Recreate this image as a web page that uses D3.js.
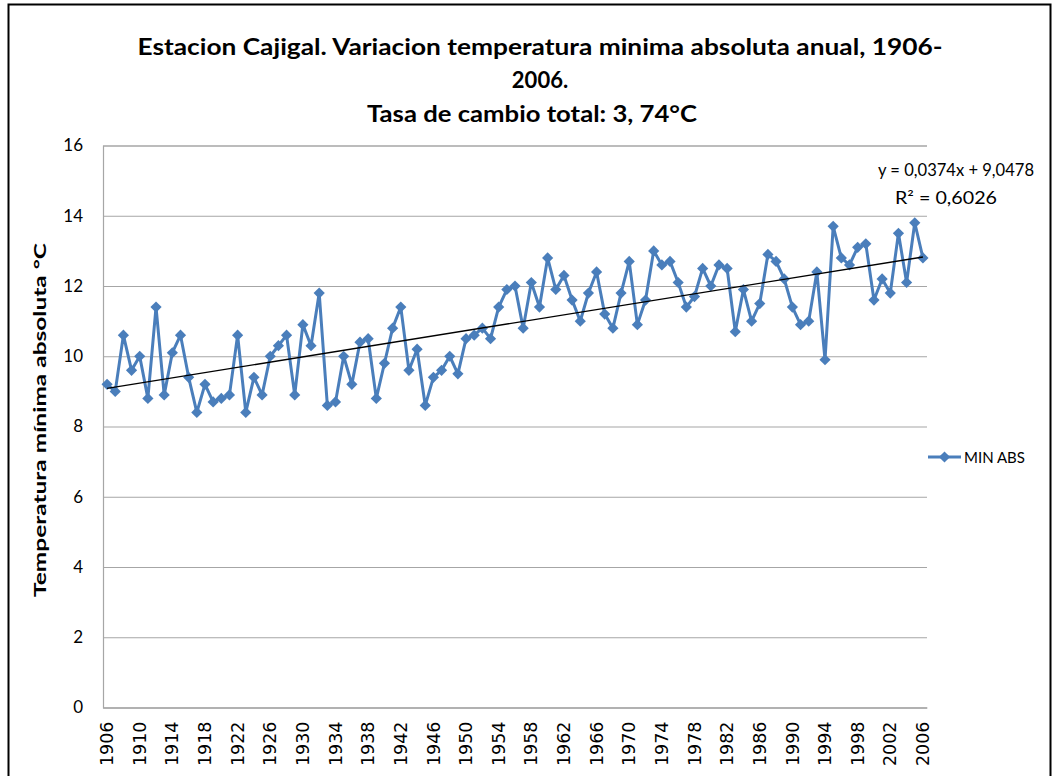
<!DOCTYPE html>
<html>
<head>
<meta charset="utf-8">
<script src="https://cdn.jsdelivr.net/npm/d3@7"></script>
<style>
  html, body { margin: 0; padding: 0; background: #fff; }
  svg { display: block; }
</style>
</head>
<body>
<svg id="chart" width="1058" height="776"></svg>
<script>
// Annual absolute minimum temperature, Cajigal station, 1906–2006
const years = d3.range(1906, 2007);
const minAbs = [
  9.2, 9.0, 10.6, 9.6, 10.0, 8.8, 11.4, 8.9, 10.1, 10.6,
  9.4, 8.4, 9.2, 8.7, 8.8, 8.9, 10.6, 8.4, 9.4, 8.9,
  10.0, 10.3, 10.6, 8.9, 10.9, 10.3, 11.8, 8.6, 8.7, 10.0,
  9.2, 10.4, 10.5, 8.8, 9.8, 10.8, 11.4, 9.6, 10.2, 8.6,
  9.4, 9.6, 10.0, 9.5, 10.5, 10.6, 10.8, 10.5, 11.4, 11.9,
  12.0, 10.8, 12.1, 11.4, 12.8, 11.9, 12.3, 11.6, 11.0, 11.8,
  12.4, 11.2, 10.8, 11.8, 12.7, 10.9, 11.6, 13.0, 12.6, 12.7,
  12.1, 11.4, 11.7, 12.5, 12.0, 12.6, 12.5, 10.7, 11.9, 11.0,
  11.5, 12.9, 12.7, 12.2, 11.4, 10.9, 11.0, 12.4, 9.9, 13.7,
  12.8, 12.6, 13.1, 13.2, 11.6, 12.2, 11.8, 13.5, 12.1, 13.8,
  12.8
];
const xTickLabels = d3.range(1906, 2007, 4);
const yTicks = [0, 2, 4, 6, 8, 10, 12, 14, 16];

// Linear trend fitted over the series index (1..101)
const trendSlope = 0.0374;
const trendIntercept = 9.0478;
const trendR2 = 0.6026;

const titleLines = [
  "Estacion Cajigal. Variacion temperatura minima absoluta anual, 1906-",
  "2006.",
  "Tasa de cambio total: 3, 74°C"
];
const yAxisTitle = "Temperatura mínima absoluta °C";
const seriesName = "MIN ABS";

const data = years.map((y, i) => ({ year: y, value: minAbs[i], idx: i + 1 }));

const svg = d3.select("#chart");
const plot = { left: 103, right: 927, top: 145.5, bottom: 707.5 };
const blue = "#4a7ebb";
const grid = "#a6a6a6";

// Outer chart frame
svg.append("rect")
  .attr("x", 8.5).attr("y", 4.5)
  .attr("width", 1042).attr("height", 820)
  .attr("fill", "none").attr("stroke", "#000").attr("stroke-width", 2);

const x = d3.scaleBand().domain(years).range([plot.left, plot.right]).padding(0);
const xc = yr => x(yr) + x.bandwidth() / 2;
const y = d3.scaleLinear().domain([0, 16]).range([plot.bottom, plot.top]);

// Horizontal gridlines and y axis
const yAxis = d3.axisLeft(y).tickValues(yTicks).tickSize(-(plot.right - plot.left)).tickPadding(20);
const gy = svg.append("g").attr("transform", `translate(${plot.left},0)`).call(yAxis);
gy.select(".domain").attr("stroke", grid).attr("stroke-width", 1.2);
gy.selectAll(".tick line").attr("stroke", grid).attr("stroke-width", 1.2);
gy.selectAll(".tick text")
  .attr("font-family", "Lato, 'Open Sans', sans-serif")
  .attr("font-size", 17).attr("fill", "#000");

// Category x axis with every fourth year labelled
const xAxis = d3.axisBottom(x).tickValues(xTickLabels).tickSize(0).tickPadding(0);
const gx = svg.append("g").attr("transform", `translate(0,${plot.bottom})`).call(xAxis);
gx.select(".domain").attr("stroke", grid).attr("stroke-width", 1.2);
gx.selectAll(".tick text")
  .attr("font-family", "'DejaVu Sans', sans-serif")
  .attr("font-size", 17.5).attr("fill", "#000")
  .attr("text-anchor", "end")
  .attr("dy", "0.35em")
  .attr("transform", "translate(0,14) rotate(-90)")
  .attr("x", 0).attr("y", 0);

// Data line with diamond markers
const line = d3.line().x(d => xc(d.year)).y(d => y(d.value));
svg.append("path").datum(data)
  .attr("d", line).attr("fill", "none")
  .attr("stroke", blue).attr("stroke-width", 3).attr("stroke-linejoin", "round");

const diamond = d3.symbol().type(d3.symbolDiamond2).size(80);
svg.append("g").selectAll("path").data(data).join("path")
  .attr("d", diamond)
  .attr("transform", d => `translate(${xc(d.year)},${y(d.value)})`)
  .attr("fill", blue);

// Trend line
const first = data[0], last = data[data.length - 1];
const trend = [first, last].map(d => ({ year: d.year, value: trendSlope * d.idx + trendIntercept }));
svg.append("path").datum(trend)
  .attr("d", line).attr("fill", "none")
  .attr("stroke", "#000").attr("stroke-width", 1.3);

// Trend equation
const eq = svg.append("g")
  .attr("font-family", "Lato, 'Open Sans', sans-serif")
  .attr("font-size", 17).attr("fill", "#000").attr("text-anchor", "middle");
eq.append("text").attr("x", 956).attr("y", 176)
  .attr("textLength", 156).attr("lengthAdjust", "spacingAndGlyphs")
  .text(`y = ${String(trendSlope).replace(".", ",")}x + ${String(trendIntercept).replace(".", ",")}`);
eq.append("text").attr("x", 946).attr("y", 204)
  .attr("textLength", 102).attr("lengthAdjust", "spacingAndGlyphs")
  .text(`R² = ${String(trendR2).replace(".", ",")}`);

// Title
const title = svg.append("g")
  .attr("font-family", "Lato, 'Open Sans', sans-serif")
  .attr("font-weight", "bold").attr("font-size", 22)
  .attr("fill", "#000").attr("text-anchor", "middle");
const titleX = [540, 540, 532];
const titleY = [55, 88, 122];
titleLines.forEach((t, i) => {
  const el = title.append("text").attr("x", titleX[i]).attr("y", titleY[i]).text(t);
  if (i === 0) el.attr("textLength", 805).attr("lengthAdjust", "spacingAndGlyphs");
  if (i === 2) el.attr("textLength", 330).attr("lengthAdjust", "spacingAndGlyphs");
});

// Y axis title
svg.append("text")
  .attr("transform", "translate(46,420) rotate(-90)")
  .attr("font-family", "Lato, 'Open Sans', sans-serif")
  .attr("font-weight", "bold").attr("font-size", 17.5)
  .attr("text-anchor", "middle")
  .attr("textLength", 354).attr("lengthAdjust", "spacingAndGlyphs")
  .text(yAxisTitle);

// Legend
const lg = svg.append("g").attr("transform", "translate(928,457)");
lg.append("line").attr("x1", 0).attr("x2", 33).attr("y1", 0).attr("y2", 0)
  .attr("stroke", blue).attr("stroke-width", 3);
lg.append("path").attr("d", diamond).attr("transform", "translate(16.5,0)").attr("fill", blue);
lg.append("text").attr("x", 36).attr("y", 5.5)
  .attr("font-family", "Lato, 'Open Sans', sans-serif")
  .attr("font-size", 15).text(seriesName);
</script>
</body>
</html>
